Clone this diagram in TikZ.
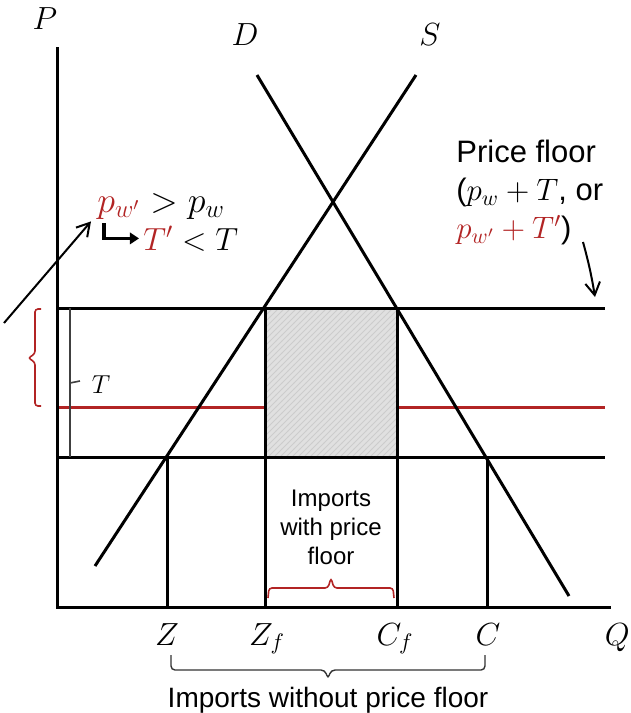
\RequirePackage{fix-cm}
\documentclass[tikz,border=0pt]{standalone}
\usepackage{fontspec}
\setmainfont{Liberation Sans}
\usetikzlibrary{arrows.meta, patterns}
\definecolor{floorred}{RGB}{178,36,36}

\begin{document}
\begin{tikzpicture}[
  x=0.5pt, y=-0.5pt,
  axis/.style  ={line width=1.5pt},
  curve/.style ={line width=1.5pt},
  level/.style ={line width=1.5pt},
  rlevel/.style={line width=1.5pt, draw=floorred},
  guide/.style ={line width=1.5pt},
  lbl/.style   ={font=\fontsize{16}{19}\selectfont, inner sep=0pt, anchor=base},
  note/.style  ={font=\fontsize{15.5}{19}\selectfont, inner sep=0pt, align=left},
  small/.style ={font=\fontsize{12}{14.5}\selectfont, inner sep=0pt, align=center},
  pointer/.style={-{Straight Barb[length=2.2mm, width=2.6mm]}, line width=1pt},
  turn/.style  ={-{Triangle[length=1.6mm, width=2mm]}, line width=1.7pt},
  rbrack/.style={draw=floorred, line width=0.8pt, rounded corners=1.5pt},
  kbrack/.style={draw=black!80, line width=0.7pt, rounded corners=2pt},
  tbar/.style  ={draw=black!75, line width=0.8pt},
  shade/.style ={fill=black!12},
  hatch/.style ={pattern=north east lines, pattern color=black!20},
]
\useasboundingbox (0,0) rectangle (631,713);

% ---- key points ----
\coordinate (O)     at (57,607);
\coordinate (ptop)  at (57,47);
\coordinate (qend)  at (611,607);
\coordinate (flL)   at (57,308);
\coordinate (flR)   at (605,308);
\coordinate (pwL)   at (57,457);
\coordinate (pwR)   at (605,457);
\coordinate (Dtop)  at (257,75);
\coordinate (Dbot)  at (569,596);
\coordinate (Stop)  at (416,75);
\coordinate (Sbot)  at (95,566);
\coordinate (Zp)    at (167,457);
\coordinate (Zfp)   at (265,308);
\coordinate (Cfp)   at (397,308);
\coordinate (Cp)    at (487,457);

% ---- red price level and shaded import block ----
\draw[rlevel] (57,407) -- (265,407);
\draw[rlevel] (397,407) -- (605,407);
\fill[shade] (Zfp) rectangle (Cfp |- pwL);
\fill[hatch] (Zfp) rectangle (Cfp |- pwL);

% ---- axes ----
\draw[axis] (ptop) -- (O) -- (qend);

% ---- price levels ----
\draw[level] (flL) -- (flR);
\draw[level] (pwL) -- (pwR);

% ---- supply / demand ----
\draw[curve] (Dtop) -- (Dbot);
\draw[curve] (Sbot) -- (Stop);

% ---- quantity drops ----
\draw[guide] (Zp)  -- (Zp |- O);
\draw[guide] (Zfp) -- (Zfp |- O);
\draw[guide] (Cfp) -- (Cfp |- O);
\draw[guide] (Cp)  -- (Cp |- O);

% ---- axis labels ----
\node[lbl] (P)  at (45,29)  {$P$};
\node[lbl] (D)  at (245,45) {$D$};
\node[lbl] (S)  at (430,45) {$S$};
\node[lbl, anchor=base east] (Q) at (630,645) {$Q$};
\node[lbl] (Z)  at (167,645) {$Z$};
\node[lbl] (Zf) at (267,645) {$Z_f$};
\node[lbl] (Cf) at (395,645) {$C_f$};
\node[lbl] (C)  at (488,645) {$C$};

% ---- tariff bracket ----
\draw[tbar] (70,308) -- (70,457);
\draw[tbar] (70,383) -- (80,381);
\node[font=\fontsize{13}{15}\selectfont, inner sep=0pt] (T) at (101,385) {$T$};
\draw[rbrack] (41,309) -- (35,309) -- (35,354) -- (28,358) -- (35,362) -- (35,406) -- (41,406);

% ---- new world price note ----
\node[lbl, font=\fontsize{18}{21}\selectfont, anchor=base west] (pwrel) at (97,212)
  {\textcolor{floorred}{$p_{w'}$}${}>p_w$};
\node[lbl, anchor=base west] (trel) at (143,250)
  {\textcolor{floorred}{$T'$}${}<T$};
\coordinate (ntail) at (4,323);
\draw[pointer] (ntail) -- ([xshift=-3pt, yshift=-1pt]pwrel.south west);
\draw[turn] ([xshift=3.5pt, yshift=-2pt]pwrel.south west) |- ([xshift=-2pt]trel.west);

% ---- price floor note ----
\node[note, anchor=north west] (pfloor) at (456,140)
  {Price floor\\($p_w+T$, or\\\textcolor{floorred}{$p_{w'}+T'$})};
\coordinate (pftail) at (583,242);
\coordinate (pfhead) at (595,297);
\draw[pointer] (pftail) to[bend left=3] (pfhead);

% ---- import quantities ----
\node[small] (impf) at (331,527) {Imports\\with price\\floor};
\draw[rbrack] (268,598) -- (269,588) -- (328,588) -- (331,578) -- (334,588) -- (393,588) -- (394,598);
\draw[kbrack] (171,655) -- (171,670) -- (325,670) -- (328,679) -- (331,670) -- (485,670) -- (485,655);
\node[font=\fontsize{14}{17}\selectfont, inner sep=0pt, anchor=base] (impn) at (328,707)
  {Imports without price floor};

\end{tikzpicture}
\end{document}
